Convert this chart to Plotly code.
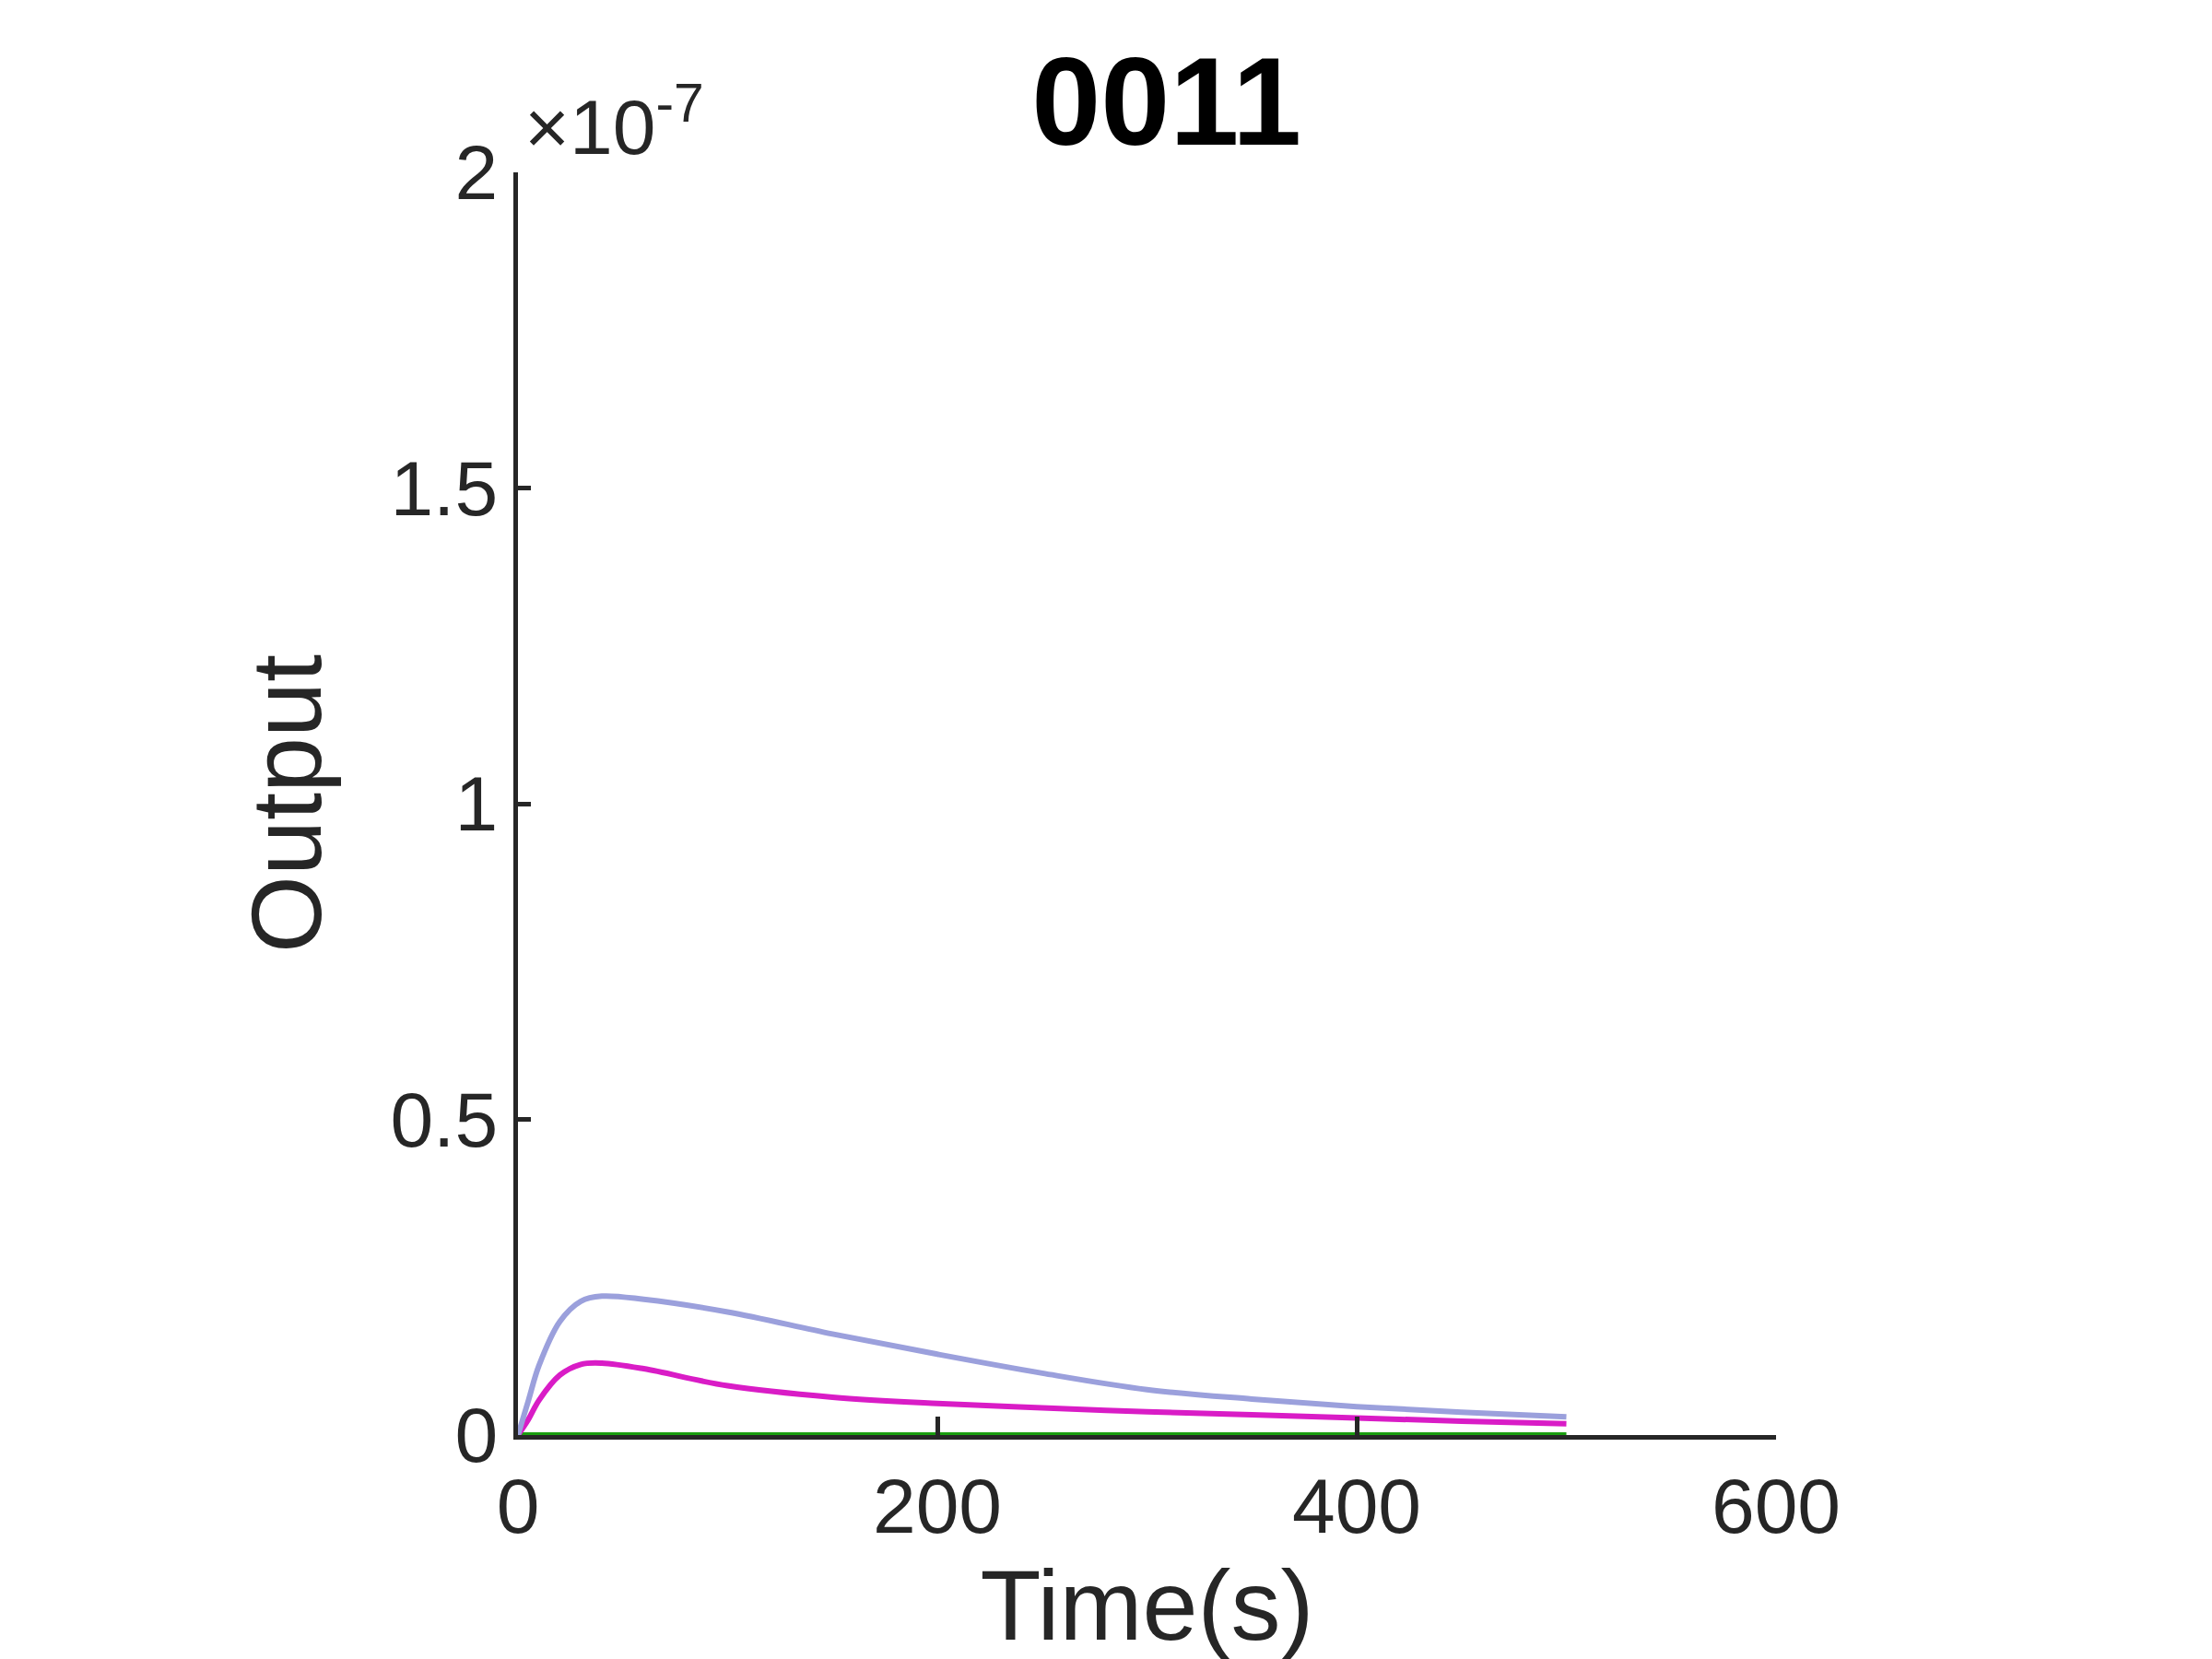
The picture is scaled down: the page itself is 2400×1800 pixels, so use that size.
import plotly.graph_objects as go

t = [0, 5, 10, 20, 30, 40, 60, 100, 150, 200, 250, 300, 350, 400, 450, 500]
lavender = [0, 0.55, 1.1, 1.8, 2.12, 2.2, 2.15, 1.95, 1.6, 1.28, 0.98, 0.72, 0.57, 0.45, 0.36, 0.29]
magenta = [0, 0.25, 0.55, 0.95, 1.12, 1.14, 1.05, 0.78, 0.6, 0.5, 0.43, 0.37, 0.32, 0.27, 0.22, 0.18]
green = [0] * len(t)
scale = 1e-8

ytick_vals = [0, 0.5e-7, 1e-7, 1.5e-7, 2e-7]
ytick_text = ["0", "0.5", "1", "1.5", "2"]
xtick_vals = [0, 200, 400, 600]

fig = go.Figure()
for ys, col in [(green, "#1a9e0f"), (magenta, "#d91cc6"), (lavender, "#9ba0dc")]:
    fig.add_trace(go.Scatter(x=t, y=[v * scale for v in ys], mode="lines",
                             line=dict(color=col, width=6, shape="spline"),
                             showlegend=False))

font = dict(family="Liberation Sans, Arial", color="#262626")
fig.update_layout(
    width=2400, height=1800, plot_bgcolor="white", paper_bgcolor="white",
    margin=dict(l=554, r=481, t=179, b=251),
    title=dict(text="<b>0011</b>", x=0.524, xanchor="center", y=0.97,
               font=dict(family="Liberation Sans, Arial", size=135, color="black")),
    font=font,
)
fig.update_xaxes(range=[0, 600], tickvals=xtick_vals, showgrid=False, zeroline=False,
                 showline=True, linecolor="#262626", linewidth=5,
                 ticks="inside", ticklen=20, tickwidth=5, tickcolor="#262626",
                 tickfont=dict(size=84), title=dict(text="Time(s)", font=dict(size=108), standoff=5))
fig.update_yaxes(range=[0, 2e-7], tickvals=ytick_vals, ticktext=ytick_text, showgrid=False,
                 zeroline=False, showline=True, linecolor="#262626", linewidth=5,
                 ticks="inside", ticklen=14, tickwidth=5, tickcolor="#262626",
                 tickfont=dict(size=84), title=dict(text="Output", font=dict(size=108), standoff=40))
fig.add_annotation(text="×10<sup>-7</sup>", xref="paper", yref="paper", x=0.0, y=1.0,
                   xanchor="left", yanchor="bottom", showarrow=False,
                   font=dict(size=84, color="#262626"), xshift=5)
fig.write_html("out.html")
